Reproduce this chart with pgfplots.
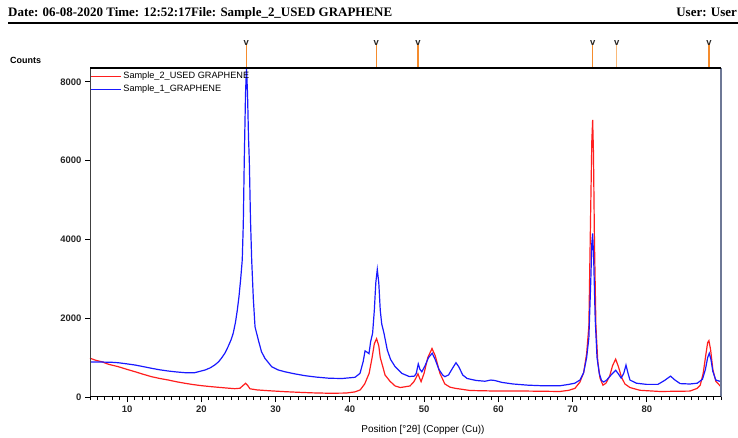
\documentclass[border=0pt]{standalone}
\usepackage{fontspec}
\setmainfont{Liberation Sans}
\newfontfamily\headfont{Liberation Serif}
\usepackage{pgfplots}
\pgfplotsset{compat=1.18}

\definecolor{spred}{RGB}{255,30,30}
\definecolor{spblue}{RGB}{25,25,255}
\definecolor{mkorange}{RGB}{245,140,45}
\definecolor{mkpale}{RGB}{250,185,120}
\definecolor{frameright}{RGB}{110,120,150}

\begin{document}
\begin{tikzpicture}
% reference peak positions above the pattern
\begin{axis}[at={(90bp,370bp)}, anchor=south west, scale only axis,
  width=631bp, height=28bp, xmin=5, xmax=90, ymin=0, ymax=1,
  axis lines=none, clip=false]
\addplot[ycomb, mkorange, line width=1.3bp, mark=text, text mark={v},
  text mark as node=true,
  text mark style={font=\bfseries\fontsize{9.5}{9.5}\selectfont, text=black!85, inner sep=0pt}]
  coordinates {(26.05,0.9) (43.57,0.9) (49.18,0.9) (72.71,0.9) (88.37,0.9)};
\addplot[ycomb, mkpale, line width=1.3bp, mark=text, text mark={v},
  text mark as node=true,
  text mark style={font=\bfseries\fontsize{9.5}{9.5}\selectfont, text=black!85, inner sep=0pt}]
  coordinates {(75.95,0.9)};
\end{axis}

\begin{axis}[name=main, at={(90bp,41bp)}, anchor=south west, scale only axis,
  width=631bp, height=329bp,
  xmin=5, xmax=90, ymin=0, ymax=8350,
  xtick={10,20,...,80}, minor xtick={5,6,...,90},
  ytick={0,2000,4000,6000,8000},
  tick pos=left, tick align=outside,
  major tick length=5bp, minor tick length=3bp,
  tick style={black, line width=0.8bp},
  minor tick style={black, line width=0.7bp},
  scaled y ticks=false,
  /pgf/number format/1000 sep={},
  /pgf/number format/assume math mode=true,
  ticklabel style={font=\bfseries\fontsize{9.5}{9.5}\selectfont, text=black!85},
  axis line style={draw=none},
  clip=false,
  legend style={at={(0,1)}, anchor=north west, draw=none, fill=none,
    inner xsep=0bp, inner ysep=2bp, font=\fontsize{9.2}{10}\selectfont,
    row sep=1bp},
  legend cell align=left,
  legend image code/.code={\draw[#1, line width=1.2bp] (0bp,0bp) -- (30bp,0bp);},
]
% Sample 2 (used graphene)
\addplot[spred, line width=1.2bp] coordinates {
(5.0,985) (5.8,930) (6.57,896) (7.5,830) (8.8,770) (10,700) (11.06,642)
(12.2,575) (13.3,515) (14.4,470) (15.55,431) (16.7,385) (17.8,348)
(18.9,315) (20.05,287) (21.2,265) (22.3,246) (23.4,228) (24.5,211)
(25.2,222) (25.6,290) (25.97,348) (26.25,290) (26.55,208) (27.5,180)
(29.0,160) (31.27,135) (33,120) (35,105) (37.3,95) (39.5,100) (40.7,130)
(41.4,180) (42.0,330) (42.6,600) (43.0,1000) (43.3,1350) (43.6,1480)
(43.9,1300) (44.1,1000) (44.47,750) (44.74,560) (45.41,400) (46.1,280)
(46.8,240) (48.1,280) (48.6,380) (48.9,480) (49.18,590) (49.4,480)
(49.6,390) (50.0,600) (50.5,1000) (51.07,1230) (51.5,1050) (52.14,600)
(52.8,330) (53.5,250) (54.2,220) (56.2,165) (60,150) (64,150) (68.3,140)
(69.5,170) (70.33,220) (71.0,380) (71.5,620) (71.9,1100) (72.2,1800)
(72.45,4800) (72.6,6500) (72.71,7030) (72.82,6200) (72.95,4000)
(73.15,1800) (73.4,900) (73.7,480) (74.1,300) (74.5,350) (75.0,530)
(75.4,800) (75.81,960) (76.2,760) (76.6,500) (77.06,330) (77.74,240)
(79.08,170) (81.78,140) (85.82,150) (86.8,220) (87.2,300) (87.6,600)
(87.9,1000) (88.2,1380) (88.37,1430) (88.6,1200) (88.9,700) (89.3,400)
(90,260)
};
\addlegendentry{Sample\_2\_USED GRAPHENE}
% Sample 1 (graphene)
\addplot[spblue, line width=1.2bp] coordinates {
(5.0,890) (6,890) (7,885) (8,880) (8.8,870) (10,840) (11.06,812)
(12.2,770) (13.3,728) (14.4,690) (15.5,660) (16.7,635) (17.8,617)
(19.1,617) (20.5,685) (21.2,740) (21.8,812) (22.3,890) (22.7,982)
(23.2,1120) (23.6,1277) (24.0,1450) (24.3,1624) (24.6,1900) (24.84,2200)
(25.07,2550) (25.3,3000) (25.51,3480) (25.65,4400) (25.78,6000)
(25.95,7700) (26.08,8350) (26.22,7700) (26.35,6600) (26.46,6000)
(26.62,4500) (26.78,3480) (27.0,2500) (27.23,1780) (27.67,1450)
(28.1,1150) (28.57,980) (29.47,770) (30.37,685) (31.27,640) (32.5,590)
(34,540) (35.5,505) (37.3,475) (39,470) (40.7,500) (41.37,600) (41.8,900)
(42.05,1170) (42.3,1140) (42.58,1100) (42.8,1400) (43.07,1620)
(43.3,2200) (43.5,2900) (43.7,3240) (43.9,2900) (44.1,2200) (44.3,1850)
(44.6,1620) (45.05,1190) (45.5,950) (46.1,770) (47.0,600) (48.0,520)
(48.7,530) (48.95,600) (49.22,840) (49.45,700) (49.7,640) (50.1,780)
(50.6,1000) (51.1,1110) (51.5,950) (52.0,700) (52.5,560) (52.8,515)
(53.3,560) (53.8,720) (54.3,870) (54.7,760) (55.2,560) (55.8,470)
(57.0,420) (58.2,400) (59.0,430) (59.5,420) (60.5,370) (62,330) (64,300)
(66,285) (68.3,285) (69.5,320) (70.3,350) (71.0,430) (71.5,620)
(71.9,1000) (72.2,1500) (72.45,2900) (72.6,3900) (72.71,4150)
(72.85,3500) (73.05,2000) (73.3,1000) (73.6,600) (73.9,420) (74.2,380)
(74.6,430) (75.2,560) (75.81,680) (76.2,580) (76.55,480) (76.9,600)
(77.2,810) (77.45,620) (77.74,430) (78.6,350) (80,320) (81.5,320)
(82.4,420) (83.2,530) (83.8,430) (84.5,340) (85.8,330) (86.8,350)
(87.5,450) (87.9,700) (88.2,1000) (88.42,1110) (88.65,950) (88.9,650)
(89.3,430) (90,390)
};
\addlegendentry{Sample\_1\_GRAPHENE}
\end{axis}

% plot frame
\draw[black!75, line width=1bp] (main.south west) -- (main.north west);
\draw[frameright, line width=1.2bp] (main.south east) -- (main.north east);
\draw[black, line width=1bp] (main.south west) -- (main.south east);
\draw[black, line width=1.5bp] (main.north west) -- (main.north east);

% header and labels
\node[anchor=base west, inner sep=0pt, font=\headfont\bfseries\fontsize{13}{13}\selectfont]
  at (8bp,421bp) {Date: 06-08-2020 Time: 12:52:17File: Sample\_2\_USED GRAPHENE};
\node[anchor=base east, inner sep=0pt, font=\headfont\bfseries\fontsize{13}{13}\selectfont]
  at (737bp,421bp) {User: User};
\draw[black, line width=1.4bp] (8bp,415bp) -- (738bp,415bp);
\node[anchor=base west, inner sep=0pt, font=\bfseries\fontsize{9}{9}\selectfont]
  at (10bp,374bp) {Counts};
\node[anchor=base, inner sep=0pt, font=\fontsize{10}{10}\selectfont]
  at (423bp,6bp) {Position [°2θ] (Copper (Cu))};

\pgfresetboundingbox
\path (0bp,0bp) rectangle (738bp,438bp);
\end{tikzpicture}
\end{document}
